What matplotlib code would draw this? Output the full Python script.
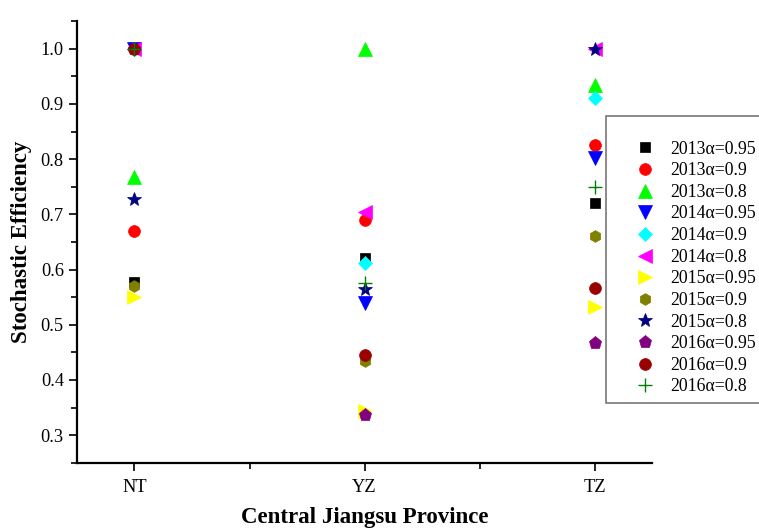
import numpy as np
import matplotlib.pyplot as plt
from matplotlib.ticker import MultipleLocator

plt.rcParams['font.family'] = ['Liberation Serif', 'DejaVu Serif']

# cities along the x axis
cities = ['NT', 'YZ', 'TZ']

# stochastic efficiency per year / confidence level, values for NT, YZ, TZ
series_labels = ['2013α=0.95', '2013α=0.9', '2013α=0.8',
                 '2014α=0.95', '2014α=0.9', '2014α=0.8',
                 '2015α=0.95', '2015α=0.9', '2015α=0.8',
                 '2016α=0.95', '2016α=0.9', '2016α=0.8']
eff_2013_95 = [0.577, 0.621, 0.720]
eff_2013_90 = [0.669, 0.689, 0.825]
eff_2013_80 = [0.767, 1.000, 0.935]
eff_2014_95 = [1.000, 0.540, 0.802]
eff_2014_90 = [1.000, 0.612, 0.910]
eff_2014_80 = [1.000, 0.705, 1.000]
eff_2015_95 = [0.550, 0.343, 0.532]
eff_2015_90 = [0.571, 0.435, 0.660]
eff_2015_80 = [0.727, 0.565, 1.000]
eff_2016_95 = [1.000, 0.336, 0.467]
eff_2016_90 = [1.000, 0.446, 0.566]
eff_2016_80 = [1.000, 0.575, 0.749]

all_series = [eff_2013_95, eff_2013_90, eff_2013_80,
              eff_2014_95, eff_2014_90, eff_2014_80,
              eff_2015_95, eff_2015_90, eff_2015_80,
              eff_2016_95, eff_2016_90, eff_2016_80]

markers = ['s', 'o', '^', 'v', 'D', '<', '>', 'h', '*', 'p', 'o', '+']
colors = ['black', '#ff0000', '#00ff00', '#0000ff', '#00ffff', '#ff00ff',
          '#ffff00', '#808000', '#000080', '#800080', '#990000', '#008000']
sizes = [7.5, 8.5, 9.5, 9.5, 7.5, 9.5, 9.5, 8.5, 10.5, 9.5, 8.5, 9.5]

fig = plt.figure(figsize=(7.59, 5.30), dpi=100)
ax = fig.add_axes([0.1014, 0.127, 0.758, 0.833])

x = np.arange(1, len(cities) + 1)
for vals, lab, m, c, s in zip(all_series, series_labels, markers, colors, sizes):
    ax.plot(x, vals, linestyle='none', marker=m, color=c, markersize=s,
            markeredgewidth=1.0 if m == '+' else 0.5, label=lab)

ax.set_xlim(0.75, 3.25)
ax.set_ylim(0.25, 1.05)
ax.set_xticks(x)
ax.set_xticklabels(cities)
ax.xaxis.set_minor_locator(MultipleLocator(0.5))
ax.yaxis.set_minor_locator(MultipleLocator(0.05))
ax.set_yticks(np.arange(0.3, 1.01, 0.1))
ax.set_yticklabels([f'{v:.1f}' for v in np.arange(0.3, 1.01, 0.1)])

for side in ['top', 'right']:
    ax.spines[side].set_visible(False)
for side in ['left', 'bottom']:
    ax.spines[side].set_linewidth(1.6)

ax.tick_params(which='major', direction='out', length=6, width=1.2, labelsize=13.2)
ax.tick_params(which='minor', direction='out', length=4, width=1.2)
ax.tick_params(axis='x', pad=6)

ax.set_xlabel('Central Jiangsu Province', fontsize=16.5, fontweight='bold', labelpad=8)
ax.set_ylabel('Stochastic Efficiency', fontsize=16.5, fontweight='bold', labelpad=6)

leg = ax.legend(loc='upper left', bbox_to_anchor=(606 / 759, 1 - 116 / 530),
                bbox_transform=fig.transFigure, fontsize=12.8, frameon=True,
                fancybox=False, borderpad=0.45, labelspacing=0.26,
                handletextpad=-0.35, borderaxespad=0, handlelength=3.5,
                title=' ', title_fontsize=9)
leg.get_frame().set_edgecolor('#555555')
leg.get_frame().set_linewidth(1.2)

fig.savefig('out.png', dpi=100)
